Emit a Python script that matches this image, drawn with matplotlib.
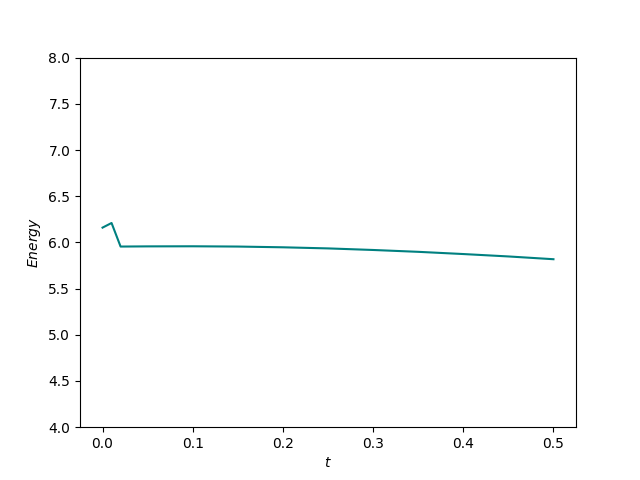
import matplotlib
matplotlib.use("Agg")
import matplotlib.pyplot as plt

t = [0.0, 0.01, 0.02, 0.05, 0.1, 0.15, 0.2, 0.25, 0.3, 0.35, 0.4, 0.45, 0.5]
energy = [6.16, 6.21, 5.955, 5.957, 5.958, 5.955, 5.947, 5.935, 5.918, 5.898, 5.874, 5.848, 5.818]

fig = plt.figure(figsize=(6.4, 4.8), dpi=100)
plt.plot(t, energy, color="teal")
plt.ylim(4, 8)
plt.xlabel("$t$")
plt.ylabel("$Energy$")
plt.savefig("out.png")
